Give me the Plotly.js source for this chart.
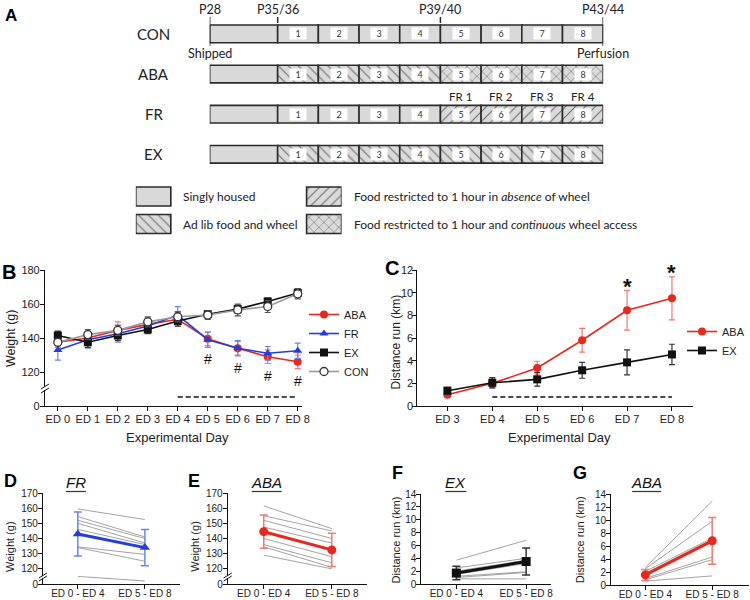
<!DOCTYPE html>
<html><head><meta charset="utf-8">
<script src="https://cdn.plot.ly/plotly-3.0.1.min.js"></script>
<style>html,body{margin:0;padding:0;background:#fff}#chart{width:750px;height:600px}</style>
</head><body><div id="chart"></div><script>
// ---------------- Panel A (schematic) data ----------------
const groups = ['CON', 'ABA', 'FR', 'EX'];
const dayNumbers = [1, 2, 3, 4, 5, 6, 7, 8];
const condKeys = ['housed', 'adlib', 'frAbsence', 'frWheel'];
const condLabels = ['Singly housed', 'Ad lib food and wheel',
  'Food restricted to 1 hour in <i>absence</i> of wheel',
  'Food restricted to 1 hour and <i>continuous</i> wheel access'];
const earlyCond = ['housed', 'adlib', 'housed', 'adlib'];      // ED 1-4 per group
const lateCond = ['housed', 'frWheel', 'frAbsence', 'adlib'];  // ED 5-8 per group
const milestoneLabels = ['P28', 'P35/36', 'P39/40', 'P43/44'];
const milestoneNotes = ['Shipped', '', '', 'Perfusion'];
const frDayLabels = ['FR 1', 'FR 2', 'FR 3', 'FR 4'];

// ---------------- Panel B: weight (g) ----------------
const bDays = ['ED 0', 'ED 1', 'ED 2', 'ED 3', 'ED 4', 'ED 5', 'ED 6', 'ED 7', 'ED 8'];
const wABA = [137.5, 140, 144.5, 148, 151, 139.5, 134, 129, 126];
const wABAerr = [3, 3.5, 5, 4, 4, 4, 4, 4, 4];
const wFR = [133, 139, 142.5, 147, 153.5, 139, 134, 131, 132.5];
const wFRerr = [6, 5, 5, 3, 5, 4.5, 4.5, 4, 4.5];
const wEX = [141.5, 137.5, 141.5, 145, 150, 154, 157, 161.5, 166.5];
const wEXerr = [2.5, 3, 3, 2.5, 3, 2, 2.5, 2, 2.5];
const wCON = [137.5, 142, 144.5, 149.5, 152.5, 153.5, 156.5, 158.5, 166];
const wCONerr = [2, 3, 3, 3, 3, 2.5, 3.5, 3.5, 3];
const hashDays = ['ED 5', 'ED 6', 'ED 7', 'ED 8'];

// ---------------- Panel C: distance run (km) ----------------
const cDays = ['ED 3', 'ED 4', 'ED 5', 'ED 6', 'ED 7', 'ED 8'];
const dABA = [1.0, 2.0, 3.35, 5.8, 8.45, 9.5];
const dABAerr = [0.25, 0.4, 0.6, 1.05, 1.75, 1.9];
const dEX = [1.35, 2.05, 2.35, 3.15, 3.85, 4.55];
const dEXerr = [0.3, 0.45, 0.6, 0.7, 1.1, 0.9];
const starDays = ['ED 7', 'ED 8'];
const restrictStart = 'ED 4', restrictEnd = 'ED 8';

// ---------------- Panels D-G ----------------
const periods = ['ED 0 - ED 4', 'ED 5 - ED 8'];
const frW1 = [159.5, 154.5, 152, 150, 146, 134.5, 134, 115];
const frW2 = [152.5, 141, 140, 137, 136, 129.5, 125, 112];
const frWMean = [143, 134], frWSD = [14.5, 12];
const abaW1 = [161.5, 155, 152, 147.5, 144, 140, 136, 134.5, 129];
const abaW2 = [146.5, 145, 140, 137, 133, 128, 124, 121, 120];
const abaWMean = [144.5, 132.5], abaWSD = [11, 11];
const exD1 = [3.7, 2.5, 2.0, 1.5, 1.2, 1.0, 0.8];
const exD2 = [6.8, 4.0, 3.7, 3.2, 1.9, 1.8, 0.8];
const exDMean = [1.7, 3.5], exDSD = [1.05, 2.1];
const abaD1 = [2.7, 2.5, 2.1, 1.8, 1.5, 1.0, 0.8, 0.6];
const abaD2 = [12.9, 9.8, 7.2, 7.0, 6.8, 4.3, 3.9, 1.4];
const abaDMean = [1.55, 6.8], abaDSD = [0.85, 3.6];

// ---------------- styling ----------------
const F = 'Liberation Sans, Arial, sans-serif';
const AF = 'Lato, Open Sans, sans-serif';
const RED = '#e8281c', RED_L = '#f07a70', BLUE = '#1f3fe0', BLUE_L = '#6a86ee';
const HOUSED = 1.67;   // drawn length of pre-experiment housing block (schematic)
const SW = 0.205;      // legend swatch width (in legend column units)
const px = v => v / 750, py = v => 1 - v / 600;

const patternShape = {housed: '', adlib: '\\', frAbsence: '/', frWheel: 'x'};
function barMarker(k) {
  return {color: '#d9d9d9', line: {color: '#2b2b2b', width: 1.6},
    pattern: {shape: patternShape[k], bgcolor: '#dadada', fgcolor: '#707070', size: 7, solidity: 0.16}};
}

const traces = [];
const annotations = [];
const shapes = [];

// Panel A bars
const seg = {};
condKeys.forEach(k => seg[k] = {y: [], base: [], x: []});
groups.forEach((g, gi) => {
  seg.housed.y.push(g); seg.housed.base.push(-HOUSED); seg.housed.x.push(HOUSED);
  dayNumbers.forEach(d => {
    const k = d <= 4 ? earlyCond[gi] : lateCond[gi];
    seg[k].y.push(g); seg[k].base.push(d - 1); seg[k].x.push(1);
  });
});
condKeys.forEach(k => traces.push({type: 'bar', orientation: 'h', xaxis: 'x', yaxis: 'y',
  y: seg[k].y, x: seg[k].x, base: seg[k].base, width: 0.44, marker: barMarker(k),
  showlegend: false, hoverinfo: 'skip'}));
// day number boxes
groups.forEach(g => dayNumbers.forEach(d => annotations.push({xref: 'x', yref: 'y', x: d - 0.5, y: g,
  text: String(d), showarrow: false, bgcolor: '#fff', width: 16, height: 11, borderpad: 0,
  font: {family: AF, size: 9, color: '#333'}})));
// row labels
groups.forEach(g => annotations.push({xref: 'paper', yref: 'y', x: px(154), y: g, text: g,
  showarrow: false, font: {family: AF, size: 15, color: '#222'}}));
// milestones
const milestoneX = [-HOUSED, 0, 4, 8];
milestoneLabels.forEach((m, i) => {
  annotations.push({xref: 'x', yref: 'paper', x: milestoneX[i], y: py(9), text: m, showarrow: false,
    font: {family: AF, size: 12.5, color: '#222'}});
  const bottom = milestoneNotes[i] ? 46 : 23;
  shapes.push({type: 'line', xref: 'x', yref: 'paper', x0: milestoneX[i], x1: milestoneX[i],
    y0: py(17), y1: py(bottom), line: {color: '#2b2b2b', width: 1.5}});
  if (milestoneNotes[i]) annotations.push({xref: 'x', yref: 'paper', x: milestoneX[i], y: py(53),
    text: milestoneNotes[i], showarrow: false, font: {family: AF, size: 12.5, color: '#222'}});
});
frDayLabels.forEach((t, i) => annotations.push({xref: 'x', yref: 'y', x: 4 + i + 0.5, y: 'FR', yshift: 18,
  text: t, showarrow: false, font: {family: AF, size: 11.5, color: '#222'}}));
// legend swatches
condKeys.forEach((k, i) => {
  const col = Math.floor(i / 2), row = i % 2;
  traces.push({type: 'bar', orientation: 'h', xaxis: 'x2', yaxis: 'y2', y: [row], x: [SW], base: [col],
    width: 0.69, marker: barMarker(k), showlegend: false, hoverinfo: 'skip'});
  annotations.push({xref: 'x2', yref: 'y2', x: col + SW, y: row, xanchor: 'left', xshift: 10,
    text: condLabels[i], showarrow: false, font: {family: AF, size: 12, color: '#222'}});
});

// Panel B
function line(x, y, err, name, color, errColor, symbol, xa, ya, leg, extra) {
  return Object.assign({type: 'scatter', mode: 'lines+markers', x: x, y: y, name: name,
    xaxis: xa, yaxis: ya, legend: leg, line: {color: color, width: 1.6},
    marker: {color: color, symbol: symbol, size: 8},
    error_y: {type: 'data', array: err, visible: true, color: errColor, thickness: 1.2, width: 3},
    hoverinfo: 'skip', cliponaxis: false}, extra || {});
}
traces.push(line(bDays, wABA, wABAerr, 'ABA', RED, RED_L, 'circle', 'x3', 'y3', 'legend', {legendrank: 1}));
traces.push(line(bDays, wFR, wFRerr, 'FR', BLUE, BLUE_L, 'triangle-up', 'x3', 'y3', 'legend', {legendrank: 2}));
traces.push(line(bDays, wEX, wEXerr, 'EX', '#111', '#333', 'square', 'x3', 'y3', 'legend', {legendrank: 3}));
traces.push(line(bDays, wCON, wCONerr, 'CON', '#9a9a9a', '#555', 'circle', 'x3', 'y3', 'legend',
  {legendrank: 4, marker: {color: '#fff', symbol: 'circle', size: 8, line: {color: '#333', width: 1.3}}}));
hashDays.forEach(d => {
  const i = bDays.indexOf(d);
  const low = Math.min(wABA[i] - wABAerr[i], wFR[i] - wFRerr[i]);
  annotations.push({xref: 'x3', yref: 'y3', x: d, y: low, yshift: -12, text: '#', showarrow: false,
    font: {family: F, size: 14, color: '#111'}});
});
shapes.push({type: 'line', xref: 'x3', yref: 'y3 domain', x0: restrictStart, x1: restrictEnd, y0: 0.066, y1: 0.066,
  line: {color: '#111', width: 1.5, dash: '5px,3px'}});

// Panel C
traces.push(line(cDays, dABA, dABAerr, 'ABA', RED, RED_L, 'circle', 'x4', 'y4', 'legend2'));
traces.push(line(cDays, dEX, dEXerr, 'EX', '#111', '#333', 'square', 'x4', 'y4', 'legend2'));
starDays.forEach(d => {
  const i = cDays.indexOf(d);
  annotations.push({xref: 'x4', yref: 'y4', x: d, y: dABA[i] + dABAerr[i], yshift: 4, text: '<b>*</b>',
    showarrow: false, font: {family: F, size: 22, color: '#111'}});
});
shapes.push({type: 'line', xref: 'x4', yref: 'y4 domain', x0: restrictStart, x1: restrictEnd, y0: 0.066, y1: 0.066,
  line: {color: '#111', width: 1.5, dash: '5px,3px'}});

// Panels D-G
function pairs(a, b, xa, ya) {
  const x = [], y = [];
  a.forEach((v, i) => { x.push(periods[0], periods[1], null); y.push(v, b[i], null); });
  return {type: 'scatter', mode: 'lines', x: x, y: y, xaxis: xa, yaxis: ya, connectgaps: false,
    line: {color: '#8c8c8c', width: 0.8}, showlegend: false, hoverinfo: 'skip'};
}
function meanTrace(m, sd, color, errColor, symbol, xa, ya) {
  return {type: 'scatter', mode: 'lines+markers', x: periods, y: m, xaxis: xa, yaxis: ya,
    line: {color: color, width: 3}, marker: {color: color, symbol: symbol, size: 9},
    error_y: {type: 'data', array: sd, visible: true, color: errColor, thickness: 1.5, width: 4},
    showlegend: false, hoverinfo: 'skip', cliponaxis: false};
}
traces.push(pairs(frW1, frW2, 'x5', 'y5'));
traces.push(meanTrace(frWMean, frWSD, BLUE, BLUE_L, 'triangle-up', 'x5', 'y5'));
traces.push(pairs(abaW1, abaW2, 'x6', 'y6'));
traces.push(meanTrace(abaWMean, abaWSD, RED, RED_L, 'circle', 'x6', 'y6'));
traces.push(pairs(exD1, exD2, 'x7', 'y7'));
traces.push(meanTrace(exDMean, exDSD, '#111', '#333', 'square', 'x7', 'y7'));
traces.push(pairs(abaD1, abaD2, 'x8', 'y8'));
traces.push(meanTrace(abaDMean, abaDSD, RED, RED_L, 'circle', 'x8', 'y8'));

// Panel letters & texts
[['A', 11, 16, 17], ['B', 9, 272, 20], ['C', 393, 268, 20], ['D', 11, 481, 18], ['E', 194, 481, 18],
 ['F', 398, 473, 18], ['G', 581, 473, 18]].forEach(l => annotations.push({xref: 'paper', yref: 'paper',
  x: px(l[1]), y: py(l[2]), text: '<b>' + l[0] + '</b>', showarrow: false, font: {family: F, size: l[3], color: '#000'}}));
[['Weight (g)', 11, 338, 12.5], ['Distance run (km)', 397, 342, 12], ['Weight (g)', 10, 546, 11],
 ['Weight (g)', 195, 546, 11], ['Distance run (km)', 397, 540, 11], ['Distance run (km)', 581, 540, 11]]
 .forEach(t => annotations.push({xref: 'paper', yref: 'paper', x: px(t[1]), y: py(t[2]), text: t[0],
  textangle: -90, showarrow: false, font: {family: F, size: t[3], color: '#222'}}));
[[178, 437], [560, 437]].forEach(t => annotations.push({xref: 'paper', yref: 'paper', x: px(t[0]), y: py(t[1]),
  text: 'Experimental Day', showarrow: false, font: {family: F, size: 13, color: '#222'}}));
[['FR', 76, 66, 86], ['ABA', 267, 252, 282], ['EX', 456, 446, 467], ['ABA', 647, 633, 662]].forEach(t => {
  annotations.push({xref: 'paper', yref: 'paper', x: px(t[1]), y: py(482), text: '<i>' + t[0] + '</i>',
    showarrow: false, font: {family: F, size: 15, color: '#111'}});
  shapes.push({type: 'line', xref: 'paper', yref: 'paper', x0: px(t[2]), x1: px(t[3]), y0: py(491.5), y1: py(491.5),
    line: {color: '#333', width: 1.2}});
});
annotations.forEach(a => { if (!a.xanchor) a.xanchor = 'center'; if (!a.yanchor) a.yanchor = 'middle'; });

// axis breaks
function brk(x, yTop, yBot) {
  shapes.push({type: 'rect', xref: 'paper', yref: 'paper', x0: px(x - 2), x1: px(x + 2), y0: py(yBot - 1), y1: py(yTop + 1),
    line: {width: 0}, fillcolor: '#fff'});
  shapes.push({type: 'line', xref: 'paper', yref: 'paper', x0: px(x - 4), x1: px(x + 4), y0: py(yTop + 3), y1: py(yTop - 2),
    line: {color: '#111', width: 1}});
  shapes.push({type: 'line', xref: 'paper', yref: 'paper', x0: px(x - 4), x1: px(x + 4), y0: py(yBot + 2), y1: py(yBot - 3),
    line: {color: '#111', width: 1}});
}
brk(45, 386, 391);
brk(43, 575, 579);
brk(228, 575, 579);

// ---------------- layout ----------------
const ax = (o) => Object.assign({showline: true, linecolor: '#111', linewidth: 1, ticks: 'outside', ticklen: 4,
  tickcolor: '#111', showgrid: false, zeroline: false, fixedrange: true,
  tickfont: {family: F, size: 11, color: '#222'}}, o);
const small = {family: F, size: 10, color: '#222'};
const xb = {ticklabelstandoff: -1}, yb = {ticklabelstandoff: -2};
const xs = {ticklabelstandoff: -4, tickfont: small}, ys = {ticklabelstandoff: -2, tickfont: small};

const layout = {
  width: 750, height: 600, margin: {l: 0, r: 0, t: 0, b: 0}, paper_bgcolor: '#fff', plot_bgcolor: 'rgba(0,0,0,0)',
  barmode: 'overlay', hovermode: false, showlegend: true,
  xaxis: {domain: [px(210), px(604)], range: [-HOUSED, 8], visible: false, fixedrange: true},
  yaxis: {domain: [py(175), py(17)], type: 'category', categoryarray: groups, range: [3.515, -0.42], visible: false, fixedrange: true},
  xaxis2: {domain: [px(136), px(136 + 171 * (1 + SW))], range: [0, 1 + SW], visible: false, anchor: 'y2'},
  yaxis2: {domain: [py(237.75), py(182.75)], range: [1.5, -0.5], visible: false, anchor: 'x2'},
  xaxis3: ax(Object.assign({domain: [px(45), px(302)], type: 'category', categoryarray: bDays, range: [-0.43, 8.13], anchor: 'y3'}, xb)),
  yaxis3: ax(Object.assign({domain: [py(406), py(270)], range: [100, 180], tickvals: [100, 120, 140, 160, 180],
    ticktext: ['0', '120', '140', '160', '180'], anchor: 'x3'}, yb)),
  xaxis4: ax(Object.assign({domain: [px(418), px(694)], type: 'category', categoryarray: cDays, range: [-0.667, 5.47], anchor: 'y4'}, xb)),
  yaxis4: ax(Object.assign({domain: [py(406), py(270)], range: [0, 12], dtick: 2, anchor: 'x4', ticklabelstandoff: -3}, {})),
  xaxis5: ax(Object.assign({domain: [px(43), px(180)], type: 'category', categoryarray: periods, range: [-0.52, 1.52], anchor: 'y5'}, xs)),
  yaxis5: ax(Object.assign({domain: [py(584), py(493)], range: [110, 170], tickvals: [110, 120, 130, 140, 150, 160, 170],
    ticktext: ['0', '120', '130', '140', '150', '160', '170'], anchor: 'x5'}, ys)),
  xaxis6: ax(Object.assign({domain: [px(228), px(367)], type: 'category', categoryarray: periods, range: [-0.53, 1.51], anchor: 'y6'}, xs)),
  yaxis6: ax(Object.assign({domain: [py(584), py(493)], range: [110, 170], tickvals: [110, 120, 130, 140, 150, 160, 170],
    ticktext: ['0', '120', '130', '140', '150', '160', '170'], anchor: 'x6'}, ys)),
  xaxis7: ax(Object.assign({domain: [px(422), px(552)], type: 'category', categoryarray: periods, range: [-0.5, 1.36], anchor: 'y7'}, xs)),
  yaxis7: ax(Object.assign({domain: [py(584), py(494)], range: [0, 14], dtick: 2, anchor: 'x7'}, ys)),
  xaxis8: ax(Object.assign({domain: [px(612), px(750)], type: 'category', categoryarray: periods, range: [-0.51, 1.55], anchor: 'y8'}, xs)),
  yaxis8: ax(Object.assign({domain: [py(585), py(494)], range: [0, 14], dtick: 2, anchor: 'x8'}, ys)),
  legend: {x: px(304), y: py(300), xanchor: 'left', yanchor: 'top', bgcolor: 'rgba(0,0,0,0)',
    font: {family: F, size: 11, color: '#222'}, itemwidth: 30},
  legend2: {x: px(683), y: py(317), xanchor: 'left', yanchor: 'top', bgcolor: 'rgba(0,0,0,0)',
    font: {family: F, size: 11, color: '#222'}, itemwidth: 30},
  annotations: annotations, shapes: shapes
};

Plotly.newPlot('chart', traces, layout, {staticPlot: true, displayModeBar: false});
</script></body></html>
